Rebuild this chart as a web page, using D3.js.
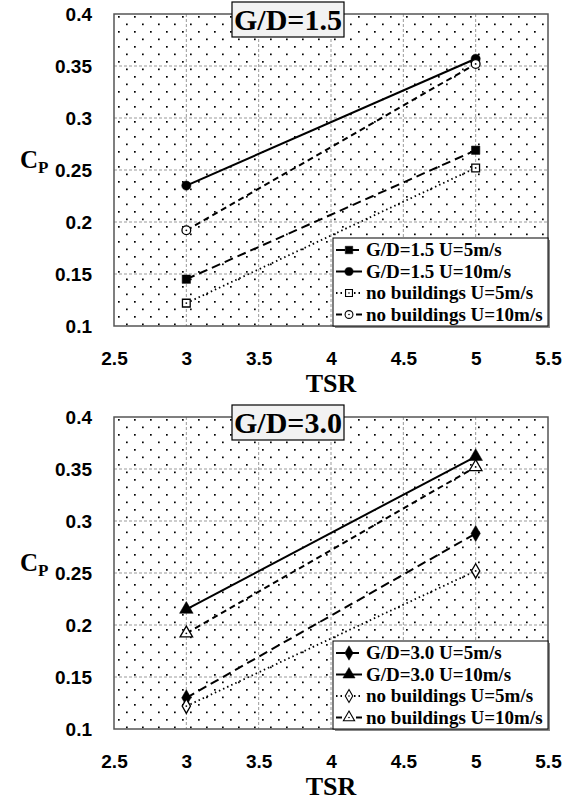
<!DOCTYPE html>
<html>
<head>
<meta charset="utf-8">
<script src="https://cdn.jsdelivr.net/npm/d3@7"></script>
<style>
  body { margin: 0; background: #fff; }
</style>
</head>
<body>
<script>
// data
const tsr = [3, 5];
const gd15U5 = [0.145, 0.269];
const gd15U10 = [0.235, 0.357];
const gd30U5 = [0.130, 0.288];
const gd30U10 = [0.215, 0.362];
const noBldU5 = [0.122, 0.252];
const noBldU10 = [0.192, 0.352];
const xTicks = [2.5, 3, 3.5, 4, 4.5, 5, 5.5];
const yTicks = [0.1, 0.15, 0.2, 0.25, 0.3, 0.35, 0.4];

const svg = d3.select('body')
  .append('svg')
    .attr('width', 572)
    .attr('height', 804);

const serif = '"Liberation Serif", serif';
const sans = '"Liberation Sans", Arial, sans-serif';

// dotted background pattern
const defs = svg.append('defs');
const pat = defs.append('pattern')
  .attr('id', 'dots')
  .attr('patternUnits', 'userSpaceOnUse')
  .attr('width', 16).attr('height', 15)
  .attr('x', 4).attr('y', 2);
pat.append('rect').attr('x', 0).attr('y', 0).attr('width', 1.7).attr('height', 1.7).attr('fill', '#000');
pat.append('rect').attr('x', 8).attr('y', 7.5).attr('width', 1.7).attr('height', 1.7).attr('fill', '#000');

const charts = [
  {
    top: 14, title: 'G/D=1.5',
    series: [
      {name: 'G/D=1.5 U=5m/s', vals: gd15U5, sym: d3.symbolSquare, size: 70, open: false, dash: '9,5', w: 2},
      {name: 'G/D=1.5 U=10m/s', vals: gd15U10, sym: d3.symbolCircle, size: 66, open: false, dash: null, w: 2},
      {name: 'no buildings U=5m/s', vals: noBldU5, sym: d3.symbolSquare, size: 60, open: true, dash: '1.5,3', w: 1.8},
      {name: 'no buildings U=10m/s', vals: noBldU10, sym: d3.symbolCircle, size: 60, open: true, dash: '6,4', w: 2}
    ]
  },
  {
    top: 417, title: 'G/D=3.0',
    series: [
      {name: 'G/D=3.0 U=5m/s', vals: gd30U5, sym: d3.symbolDiamond, size: 75, open: false, dash: '9,5', w: 2},
      {name: 'G/D=3.0 U=10m/s', vals: gd30U10, sym: d3.symbolTriangle, size: 80, open: false, dash: null, w: 2},
      {name: 'no buildings U=5m/s', vals: noBldU5, sym: d3.symbolDiamond, size: 60, open: true, dash: '1.5,3', w: 1.8},
      {name: 'no buildings U=10m/s', vals: noBldU10, sym: d3.symbolTriangle, size: 68, open: true, dash: '6,4', w: 2}
    ]
  }
];

const left = 114, width = 434, height = 312;

charts.forEach(c => {
  const g = svg.append('g').attr('transform', 'translate(' + left + ',' + c.top + ')');

  const x = d3.scaleLinear().domain([2.5, 5.5]).range([0, width]);
  const y = d3.scaleLinear().domain([0.1, 0.4]).range([height, 0]);

  // background
  g.append('rect').attr('width', width).attr('height', height).attr('fill', '#fff');
  g.append('rect').attr('width', width).attr('height', height).attr('fill', 'url(#dots)');

  // grid
  g.selectAll('.gx').data(xTicks.slice(1, -1)).enter().append('line')
    .attr('x1', d => x(d)).attr('x2', d => x(d))
    .attr('y1', 0).attr('y2', height)
    .attr('stroke', '#999').attr('stroke-width', 1).attr('stroke-dasharray', '3,2');
  g.selectAll('.gy').data(yTicks.slice(1, -1)).enter().append('line')
    .attr('y1', d => y(d)).attr('y2', d => y(d))
    .attr('x1', 0).attr('x2', width)
    .attr('stroke', '#999').attr('stroke-width', 1).attr('stroke-dasharray', '3,2');

  // frame
  g.append('rect').attr('width', width).attr('height', height)
    .attr('fill', 'none').attr('stroke', '#555').attr('stroke-width', 1.5);

  // axes
  const yAxis = d3.axisLeft(y).tickValues(yTicks).tickSize(0).tickPadding(22)
    .tickFormat(d => d3.format('')(+d.toFixed(2)));
  const ya = g.append('g').call(yAxis)
    .attr('font-family', sans).attr('font-size', 19).attr('font-weight', 700);
  ya.select('.domain').remove();
  ya.selectAll('text')
    .style('font-family', sans).style('font-size', '19px')
    .style('font-weight', '700').style('fill', '#000');

  const xAxis = d3.axisBottom(x).tickValues(xTicks).tickSize(0).tickPadding(26)
    .tickFormat(d => String(d));
  const xa = g.append('g')
    .attr('transform', 'translate(0,' + height + ')').call(xAxis)
    .attr('font-family', sans).attr('font-size', 19).attr('font-weight', 700);
  xa.select('.domain').remove();
  xa.selectAll('text')
    .style('font-family', sans).style('font-size', '19px')
    .style('font-weight', '700').style('fill', '#000');

  // axis titles
  g.append('text')
    .attr('x', x(4)).attr('y', height + 66)
    .attr('text-anchor', 'middle')
    .attr('font-family', serif).attr('font-weight', 700)
    .attr('font-size', 26).text('TSR');
  const cp = g.append('text')
    .attr('x', -94).attr('y', y(0.25) - 2)
    .attr('font-family', serif).attr('font-weight', 700)
    .attr('font-size', 25);
  cp.append('tspan').text('C');
  cp.append('tspan').attr('font-size', 17).attr('dy', 5).text('P');

  // series lines and markers
  const line = d3.line().x((d, i) => x(tsr[i])).y(d => y(d));
  c.series.forEach(s => {
    g.append('path').datum(s.vals)
      .attr('d', line)
      .attr('fill', 'none').attr('stroke', '#000')
      .attr('stroke-width', s.w)
      .attr('stroke-dasharray', s.dash);
  });
  c.series.forEach(s => {
    g.selectAll(null).data(s.vals).enter().append('path')
      .attr('transform', (d, i) => 'translate(' + x(tsr[i]) + ',' + y(d) + ')')
      .attr('d', d3.symbol().type(s.sym).size(s.size))
      .attr('fill', s.open ? '#fff' : '#000')
      .attr('stroke', '#000').attr('stroke-width', s.open ? 1.3 : 0.5);
    if (s.open) {
      g.selectAll(null).data(s.vals).enter().append('circle')
        .attr('cx', (d, i) => x(tsr[i])).attr('cy', d => y(d))
        .attr('r', 0.9).attr('fill', '#000');
    }
  });

  // title box
  const tb = g.append('g').attr('transform', 'translate(' + (232 - left) + ',-12)');
  tb.append('rect').attr('width', 112).attr('height', 35)
    .attr('fill', '#f2f2f2').attr('stroke', '#000').attr('stroke-width', 1.2);
  tb.append('text').attr('x', 56).attr('y', 28)
    .attr('text-anchor', 'middle')
    .attr('font-family', serif).attr('font-weight', 700)
    .attr('font-size', 30).text(c.title);

  // legend
  const lg = g.append('g').attr('transform', 'translate(' + (333 - left) + ',' + (height - 88) + ')');
  lg.append('rect').attr('x', 2).attr('y', 2).attr('width', 215).attr('height', 88).attr('fill', '#888');
  lg.append('rect').attr('width', 215).attr('height', 88)
    .attr('fill', '#fff').attr('stroke', '#000').attr('stroke-width', 1);
  c.series.forEach((s, i) => {
    const ly = 12 + i * 21.5;
    lg.append('line').attr('x1', 3).attr('x2', 29).attr('y1', ly).attr('y2', ly)
      .attr('stroke', '#000').attr('stroke-width', s.w).attr('stroke-dasharray', s.dash);
    lg.append('path').attr('transform', 'translate(16,' + ly + ')')
      .attr('d', d3.symbol().type(s.sym).size(s.size * 0.8))
      .attr('fill', s.open ? '#fff' : '#000')
      .attr('stroke', '#000').attr('stroke-width', s.open ? 1.1 : 0.5);
    if (s.open) {
      lg.append('circle').attr('cx', 16).attr('cy', ly).attr('r', 0.8).attr('fill', '#000');
    }
    lg.append('text').attr('x', 33).attr('y', ly + 6)
      .attr('font-family', serif).attr('font-weight', 700)
      .attr('font-size', 19).text(s.name);
  });
});
</script>
</body>
</html>
